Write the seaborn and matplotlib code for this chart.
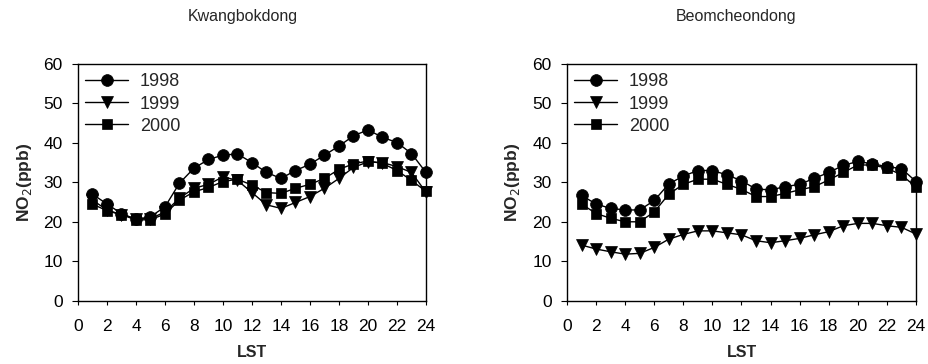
import numpy as np
import pandas as pd
import matplotlib
matplotlib.use("Agg")
import matplotlib.pyplot as plt
import seaborn as sns

# hourly NO2 (ppb)
hours = list(range(1, 25))
years = ["1998", "1999", "2000"]

kwang_1998 = [27.0, 24.5, 22.1, 20.6, 21.3, 23.8, 29.8, 33.6, 35.8, 36.9, 37.2, 35.0,
              32.5, 31.0, 33.0, 34.6, 36.9, 39.2, 41.8, 43.3, 41.4, 40.1, 37.3, 32.5]
kwang_1999 = [25.5, 23.0, 21.8, 20.8, 20.8, 22.5, 26.0, 28.5, 29.5, 31.4, 30.5, 27.4,
              24.3, 23.4, 24.9, 26.4, 28.5, 31.0, 33.8, 35.2, 35.0, 34.0, 32.5, 27.5]
kwang_2000 = [24.5, 22.8, 21.8, 20.5, 20.5, 22.0, 25.5, 27.6, 28.7, 30.2, 30.8, 29.3,
              27.4, 27.2, 28.5, 29.5, 31.0, 33.3, 34.7, 35.4, 34.8, 33.0, 30.5, 27.7]

beom_1998 = [26.7, 24.5, 23.4, 23.0, 23.0, 25.4, 29.6, 31.6, 33.0, 33.0, 31.9, 30.4,
             28.3, 28.1, 28.9, 29.5, 31.0, 32.5, 34.3, 35.3, 34.7, 34.0, 33.5, 30.2]
beom_1999 = [14.1, 13.1, 12.4, 11.8, 12.0, 13.5, 15.6, 16.8, 17.7, 17.7, 17.2, 16.7,
             15.2, 14.7, 15.2, 15.8, 16.7, 17.5, 19.0, 19.6, 19.6, 19.0, 18.6, 16.9]
beom_2000 = [24.5, 22.1, 20.9, 20.0, 20.0, 22.5, 27.0, 29.5, 30.8, 30.8, 29.5, 28.2,
             26.4, 26.4, 27.2, 28.1, 28.9, 30.6, 32.5, 34.4, 34.4, 33.6, 31.9, 28.8]

stations = ["Kwangbokdong", "Beomcheondong"]

markers = {"1998": "o", "1999": "v", "2000": "s"}
msizes = {"1998": 8.5, "1999": 8.5, "2000": 7.5}

sns.set_style("white")
plt.rcParams['font.family'] = ['Liberation Sans', 'DejaVu Sans']

fig = plt.figure(figsize=(9.29, 3.64), dpi=100)
W, H = 929, 364
ax_left = fig.add_axes([78 / W, (H - 300.7) / H, 348 / W, 236.7 / H])
ax_right = fig.add_axes([567 / W, (H - 300.7) / H, 349 / W, 236.7 / H])

data = [[kwang_1998, kwang_1999, kwang_2000], [beom_1998, beom_1999, beom_2000]]
title_x = [243 / W, 736 / W]

for ax, series, name, tx in zip([ax_left, ax_right], data, stations, title_x):
    for yr, vals in zip(years, series):
        df = pd.DataFrame({"LST": hours, "NO2": vals})
        sns.lineplot(data=df, x="LST", y="NO2", marker=markers[yr],
                     markersize=msizes[yr], color="black", linewidth=1.0,
                     markeredgecolor="black", markeredgewidth=0.5,
                     clip_on=False, label=yr, ax=ax)
    ax.set_xlim(0, 24)
    ax.set_ylim(0, 60)
    ax.set_xticks(range(0, 25, 2))
    ax.set_yticks(range(0, 61, 10))
    ax.tick_params(axis="both", direction="out", width=0.8, labelsize=12.5,
                   colors="black", bottom=True, left=True)
    ax.tick_params(axis="x", length=3, pad=10)
    ax.tick_params(axis="y", length=4, pad=7)
    for sp in ax.spines.values():
        sp.set_visible(True)
        sp.set_color("black")
        sp.set_linewidth(1.0)
    ax.set_xlabel("LST", fontsize=11.5, fontweight="bold")
    ax.xaxis.label.set_va("center")
    ax.xaxis.set_label_coords(0.5, -0.217)
    ax.set_ylabel("NO$_2$(ppb)", fontsize=12.5, fontweight="bold")
    ax.yaxis.label.set_va("center")
    ax.yaxis.set_label_coords(-0.155, 0.5)
    ax.legend(loc="upper left", bbox_to_anchor=(0.02, 0.96), frameon=False,
              fontsize=13, handlelength=2.4, handletextpad=0.65,
              labelspacing=0.28, borderaxespad=0, borderpad=0)
    fig.text(tx, 1 - 17 / H, name, ha="center", va="center", fontsize=11.5)

fig.savefig("out.png", dpi=100)
